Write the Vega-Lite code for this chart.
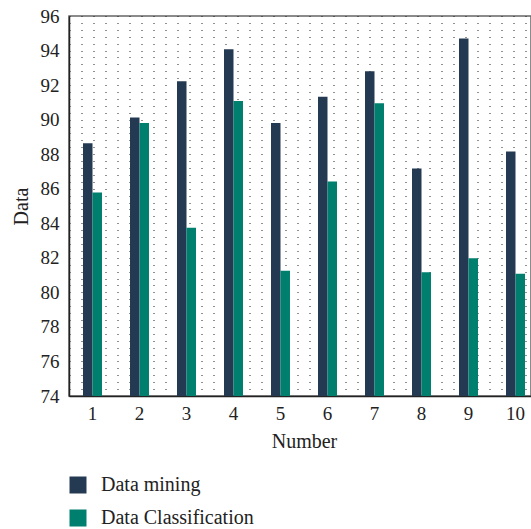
{
  "$schema": "https://vega.github.io/schema/vega-lite/v6.json",
  "width": 462,
  "height": 380,
  "autosize": {"type": "none"},
  "padding": {"left": 69, "top": 16, "right": 0, "bottom": 133},
  "config": {
    "font": "Liberation Serif",
    "view": {"stroke": "#666", "strokeWidth": 1.5}
  },
  "data": {
    "values": [
      {"num": 1, "series": "Data mining", "value": 88.64},
      {"num": 2, "series": "Data mining", "value": 90.12},
      {"num": 3, "series": "Data mining", "value": 92.22},
      {"num": 4, "series": "Data mining", "value": 94.07},
      {"num": 5, "series": "Data mining", "value": 89.8},
      {"num": 6, "series": "Data mining", "value": 91.33},
      {"num": 7, "series": "Data mining", "value": 92.8},
      {"num": 8, "series": "Data mining", "value": 87.17},
      {"num": 9, "series": "Data mining", "value": 94.7},
      {"num": 10, "series": "Data mining", "value": 88.15},
      {"num": 1, "series": "Data Classification", "value": 85.78},
      {"num": 2, "series": "Data Classification", "value": 89.81},
      {"num": 3, "series": "Data Classification", "value": 83.74},
      {"num": 4, "series": "Data Classification", "value": 91.08},
      {"num": 5, "series": "Data Classification", "value": 81.25},
      {"num": 6, "series": "Data Classification", "value": 86.42},
      {"num": 7, "series": "Data Classification", "value": 90.95},
      {"num": 8, "series": "Data Classification", "value": 81.16},
      {"num": 9, "series": "Data Classification", "value": 81.97},
      {"num": 10, "series": "Data Classification", "value": 81.08}
    ]
  },
  "mark": {"type": "bar", "clip": true},
  "encoding": {
    "x": {
      "field": "num",
      "type": "ordinal",
      "scale": {"range": [0, 470], "paddingInner": 0.596, "paddingOuter": 0.298},
      "axis": {
        "title": "Number",
        "labelAngle": 0,
        "ticks": false,
        "grid": false,
        "domainColor": "#222",
        "domainWidth": 1.5,
        "labelFontSize": 19,
        "labelColor": "#222",
        "labelPadding": 8,
        "titleFontSize": 20,
        "titleFontWeight": "normal",
        "titleColor": "#222",
        "titlePadding": 8
      }
    },
    "xOffset": {"field": "series", "type": "nominal", "sort": ["Data mining", "Data Classification"]},
    "y": {
      "field": "value",
      "type": "quantitative",
      "scale": {"domain": [74, 96], "nice": false, "zero": false},
      "axis": {
        "title": "Data",
        "values": [74,74.4,74.8,75.2,75.6,76,76.4,76.8,77.2,77.6,78,78.4,78.8,79.2,79.6,80,80.4,80.8,81.2,81.6,82,82.4,82.8,83.2,83.6,84,84.4,84.8,85.2,85.6,86,86.4,86.8,87.2,87.6,88,88.4,88.8,89.2,89.6,90,90.4,90.8,91.2,91.6,92,92.4,92.8,93.2,93.6,94,94.4,94.8,95.2,95.6,96],
        "format": ".0f",
        "labelExpr": "datum.value % 2 == 0 ? datum.label : ''",
        "labelOverlap": false,
        "ticks": false,
        "grid": true,
        "gridDash": [1, 11],
        "gridColor": "#222",
        "gridWidth": 1,
        "domainColor": "#222",
        "domainWidth": 1.5,
        "labelFontSize": 19,
        "labelColor": "#222",
        "labelPadding": 10,
        "titleFontSize": 20,
        "titleFontWeight": "normal",
        "titleColor": "#222",
        "titlePadding": 9
      }
    },
    "color": {
      "field": "series",
      "type": "nominal",
      "sort": ["Data mining", "Data Classification"],
      "scale": {"domain": ["Data mining", "Data Classification"], "range": ["#243a52", "#007f6e"]},
      "legend": {
        "orient": "none",
        "legendX": -1,
        "legendY": 459,
        "title": null,
        "direction": "vertical",
        "symbolType": "square",
        "symbolSize": 289,
        "symbolStrokeWidth": 0,
        "labelFontSize": 20,
        "labelColor": "#222",
        "labelOffset": 13,
        "rowPadding": 13,
        "padding": 0
      }
    }
  }
}
